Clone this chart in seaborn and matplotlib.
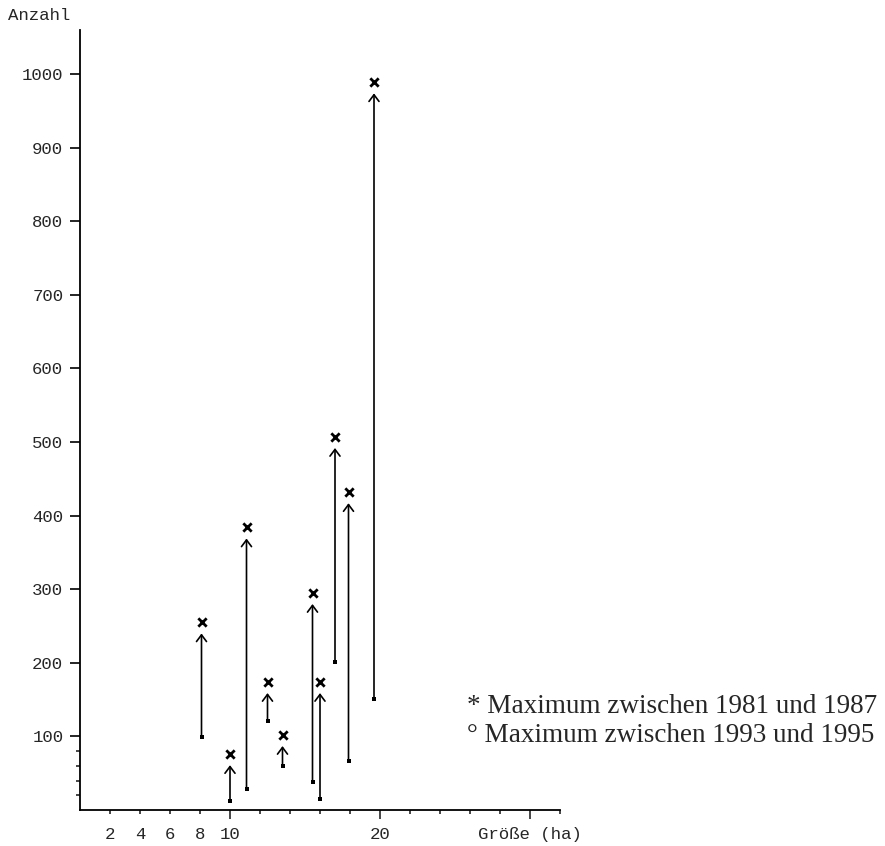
import matplotlib
matplotlib.use("Agg")
import matplotlib.pyplot as plt
import seaborn as sns
import pandas as pd

# ---- data ----
groesse_ha = [8.1, 10.0, 11.1, 12.5, 13.5, 15.5, 16.0, 17.0, 17.9, 19.6]
max_1981_1987 = [255, 76, 384, 174, 102, 295, 174, 507, 432, 989]
max_1993_1995 = [99, 12, 28, 121, 60, 38, 15, 201, 67, 151]

y_major = [100, 200, 300, 400, 500, 600, 700, 800, 900, 1000]
y_minor = [20, 40, 60, 80]
x_major = [10, 20, 30]
x_major_labels = ["10", "20", "Größe (ha)"]
x_minor = [2, 4, 6, 8, 12, 14, 16, 18, 22, 24, 26, 28, 32]
x_minor_labels = ["2", "4", "6", "8", "", "", "", "", "", "", "", "", ""]
legend_lines = ["* Maximum zwischen 1981 und 1987",
                "° Maximum zwischen 1993 und 1995"]

df = pd.DataFrame({"Größe": groesse_ha,
                   "hoch": max_1981_1987,
                   "tief": max_1993_1995})

sns.set_style("ticks")
plt.rcParams["font.family"] = ["Liberation Mono", "DejaVu Sans Mono"]

fig = plt.figure(figsize=(8.85, 8.46), dpi=100)
ax = fig.add_axes([80 / 885, 1 - 810 / 846, 480 / 885, 780 / 846])

# arrows from later maximum up to earlier maximum
for _, r in df.iterrows():
    ax.annotate("", xy=(r["Größe"], r["hoch"]), xytext=(r["Größe"], r["tief"]),
                arrowprops=dict(arrowstyle="->,head_length=0.4,head_width=0.3",
                                color="black", lw=1.2, shrinkA=0, shrinkB=8,
                                mutation_scale=12))

sns.scatterplot(data=df, x="Größe", y="hoch", marker="x", color="black",
                s=36, linewidth=2.0, ax=ax, zorder=5)
sns.scatterplot(data=df, x="Größe", y="tief", marker="s", color="black",
                s=12, linewidth=0, ax=ax, zorder=5)

ax.set_xlim(0, 32)
ax.set_ylim(0, 1060)
ax.set_xlabel("")
ax.set_ylabel("")

ax.set_yticks(y_major)
ax.set_yticklabels([str(v) for v in y_major])
ax.set_yticks(y_minor, minor=True)
ax.set_xticks(x_major)
ax.set_xticklabels(x_major_labels)
ax.set_xticks(x_minor, minor=True)
ax.set_xticklabels(x_minor_labels, minor=True)

ax.tick_params(axis="y", which="major", length=7, width=1.2, pad=5,
               labelsize=12.5, color="black")
ax.tick_params(axis="y", which="minor", length=3, width=1.2)
ax.tick_params(axis="x", which="major", length=6.5, width=1.2, pad=6,
               labelsize=12.5)
ax.tick_params(axis="x", which="minor", length=3, width=1.2, pad=9.5,
               labelsize=12.5)

for s in ["top", "right"]:
    ax.spines[s].set_visible(False)
for s in ["left", "bottom"]:
    ax.spines[s].set_linewidth(1.3)
    ax.spines[s].set_color("black")

fig.text(8 / 885, 1 - 15 / 846, "Anzahl", fontsize=12.5, va="center",
         ha="left", family=["Liberation Mono", "DejaVu Sans Mono"])

fig.text(467 / 885, 1 - 706 / 846, legend_lines[0], fontsize=19.5,
         va="center", ha="left", family=["Liberation Serif", "DejaVu Serif"])
fig.text(467 / 885, 1 - 735 / 846, legend_lines[1], fontsize=19.5,
         va="center", ha="left", family=["Liberation Serif", "DejaVu Serif"])

fig.savefig("out.png", dpi=100, facecolor="white")
